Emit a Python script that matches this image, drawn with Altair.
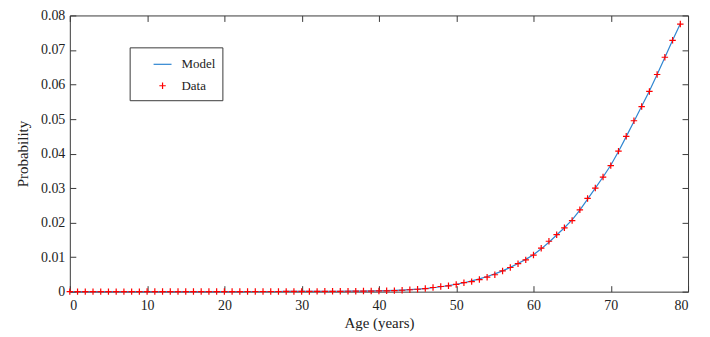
import altair as alt
import pandas as pd

# ---- data ----
ages = list(range(0, 80))
data_prob = [
    0.00001, 0.00001, 0.00001, 0.00001, 0.00001, 0.00001, 0.00001, 0.00001, 0.00001, 0.00001,
    0.00002, 0.00002, 0.00002, 0.00002, 0.00002, 0.00002, 0.00002, 0.00002, 0.00003, 0.00003,
    0.00003, 0.00003, 0.00003, 0.00004, 0.00004, 0.00004, 0.00005, 0.00005, 0.00006, 0.00006,
    0.00007, 0.00007, 0.00008, 0.00009, 0.00010, 0.00011, 0.00012, 0.00014, 0.00016, 0.00018,
    0.00020, 0.00024, 0.00030, 0.00040, 0.00055, 0.00070, 0.00090, 0.00120, 0.00150, 0.00170,
    0.00210, 0.00260, 0.00290, 0.00350, 0.00420, 0.00490, 0.00600, 0.00700, 0.00810, 0.00920,
    0.01060, 0.01260, 0.01460, 0.01650, 0.01850, 0.02060, 0.02370, 0.02700, 0.03000, 0.03320,
    0.03650, 0.04070, 0.04500, 0.04950, 0.05360, 0.05800, 0.06290, 0.06790, 0.07280, 0.07750,
]
model_prob = [
    0.00001, 0.00001, 0.00001, 0.00001, 0.00001, 0.00001, 0.00001, 0.00001, 0.00001, 0.00001,
    0.00002, 0.00002, 0.00002, 0.00002, 0.00002, 0.00002, 0.00002, 0.00002, 0.00003, 0.00003,
    0.00003, 0.00003, 0.00003, 0.00004, 0.00004, 0.00004, 0.00005, 0.00005, 0.00006, 0.00006,
    0.00007, 0.00008, 0.00009, 0.00010, 0.00011, 0.00012, 0.00014, 0.00016, 0.00018, 0.00021,
    0.00025, 0.00030, 0.00037, 0.00046, 0.00057, 0.00071, 0.00090, 0.00113, 0.00142, 0.00175,
    0.00214, 0.00259, 0.00311, 0.00370, 0.00438, 0.00515, 0.00603, 0.00703, 0.00813, 0.00935,
    0.01070, 0.01240, 0.01430, 0.01640, 0.01850, 0.02080, 0.02360, 0.02680, 0.03000, 0.03320,
    0.03660, 0.04060, 0.04490, 0.04930, 0.05370, 0.05810, 0.06290, 0.06780, 0.07280, 0.07760,
]
x_ticks = [0, 10, 20, 30, 40, 50, 60, 70, 80]
y_ticks = [0, 0.01, 0.02, 0.03, 0.04, 0.05, 0.06, 0.07, 0.08]
series_names = ["Model", "Data"]
series_colors = ["#2f86d1", "#ff0000"]

model_df = pd.DataFrame({"age": ages, "prob": model_prob, "series": "Model"})
data_df = pd.DataFrame({"age": ages, "prob": data_prob, "series": "Data"})

FONT = "Liberation Serif"
FRAME = "#3a3a3a"

x_scale = alt.Scale(domain=[0, 80], nice=False, zero=False)
y_scale = alt.Scale(domain=[0, 0.08], nice=False, zero=False)

x_bottom = alt.Axis(
    orient="bottom", values=x_ticks, format="d", domain=False, grid=False,
    offset=-6, tickSize=6, tickColor=FRAME, labelPadding=7,
    labelFont=FONT, labelFontSize=14, labelColor="#222",
    title="Age (years)", titleFont=FONT, titleFontSize=15, titleFontWeight="normal",
    titleColor="#222", titlePadding=3,
)
y_left = alt.Axis(
    orient="left", values=y_ticks, domain=False, grid=False,
    labelExpr="datum.value == 0 ? '0' : format(datum.value, '.2f')",
    offset=-6, tickSize=6, tickColor=FRAME, labelPadding=5,
    labelFont=FONT, labelFontSize=14, labelColor="#222",
    title="Probability", titleFont=FONT, titleFontSize=15, titleFontWeight="normal",
    titleColor="#222", titlePadding=10,
)
x_top = alt.Axis(orient="top", values=x_ticks, domain=False, grid=False, labels=False,
                 offset=-6, tickSize=6, tickColor=FRAME, title=None)
y_right = alt.Axis(orient="right", values=y_ticks, domain=False, grid=False, labels=False,
                   offset=-6, tickSize=6, tickColor=FRAME, title=None)

line = alt.Chart(model_df).mark_line(color=series_colors[0], strokeWidth=1.2).encode(
    x=alt.X("age:Q", scale=x_scale, axis=x_bottom),
    y=alt.Y("prob:Q", scale=y_scale, axis=y_left),
)

points = alt.Chart(data_df).mark_point(filled=False, strokeWidth=1.2, opacity=1).encode(
    x=alt.X("age:Q", scale=x_scale, axis=x_top),
    y=alt.Y("prob:Q", scale=y_scale, axis=y_right),
    color=alt.Color(
        "series:N",
        scale=alt.Scale(domain=series_names, range=series_colors),
        legend=alt.Legend(
            title=None, orient="none", legendX=60, legendY=32,
            strokeColor=FRAME, padding=7, fillColor="white",
            labelFont=FONT, labelFontSize=13, labelColor="#222",
            symbolStrokeWidth=1.2, rowPadding=8,
            symbolOffset=16, labelOffset=9,
        ),
    ),
    shape=alt.Shape(
        "series:N",
        scale=alt.Scale(domain=series_names, range=["stroke", "M-1,0L1,0M0,-1L0,1"]),
    ),
    size=alt.Size(
        "series:N",
        scale=alt.Scale(domain=series_names, range=[324, 42]),
    ),
)

chart = (
    alt.layer(line, points)
    .resolve_axis(x="independent", y="independent")
    .properties(
        width=620, height=277,
        autosize=alt.AutoSizeParams(type="none"),
        padding={"left": 62, "top": 7, "right": 14, "bottom": 45},
    )
    .configure_view(stroke=FRAME, strokeWidth=1)
)

chart.save("out.html", embed_options={"renderer": "svg", "actions": False})
